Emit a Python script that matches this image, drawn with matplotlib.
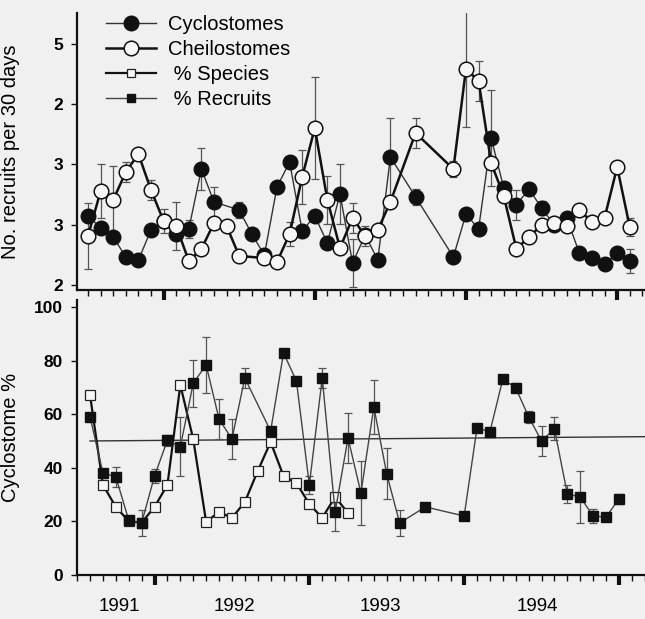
import numpy as np
import matplotlib
matplotlib.use("Agg")
import matplotlib.pyplot as plt
from matplotlib.lines import Line2D

plt.rcParams['font.family'] = ['Liberation Sans', 'DejaVu Sans']

# ---- upper panel: recruitment rates (positions on the recruit axis) ----
months_top = list(range(44))
cyclostomes = [1.145, 0.946, 0.797, 0.465, 0.415, 0.913, 1.062, 0.846, 0.929, 1.925,
               1.378, None, 1.245, 0.846, 0.498, 1.627, 2.041, 0.896, 1.145, 0.697,
               1.510, 0.365, 0.830, 0.415, 2.124, None, 1.461, None, None, 0.465,
               1.178, 0.929, 2.440, 1.610, 1.328, 1.593, 1.278, 0.996, 1.112, 0.531,
               0.448, 0.349, 0.531, 0.398]
cyclostomes_err = [0, 0, 0, 0, 0, 0, 0, 0, 0.149, 0.349,
                   0.249, 0, 0.133, 0, 0, 0, 0, 0, 0, 0,
                   0.498, 0.398, 0, 0, 0.647, 0, 0.133, 0, 0, 0,
                   0, 0, 0.797, 0, 0.249, 0, 0.116, 0, 0, 0,
                   0, 0, 0, 0.2]
cheilostomes = [0.813, 1.560, 1.411, 1.876, 2.174, 1.577, 1.062, 0.979, 0.398, 0.598,
                1.029, 0.979, 0.481, None, 0.448, 0.382, 0.846, 1.793, 2.606, 1.411,
                0.614, 1.112, 0.813, 0.913, 1.378, None, 2.523, None, None, 1.925,
                3.585, 3.386, 2.025, 1.477, 0.598, 0.797, 0.996, 1.029, 0.979, 1.245,
                1.046, 1.112, 1.958, 0.963]
cheilostomes_err = [0.548, 0.448, 0.564, 0.166, 0, 0.166, 0.2, 0.398, 0, 0,
                    0, 0, 0, 0, 0, 0, 0.2, 0.448, 0.846, 0.398,
                    0, 0.249, 0.166, 0, 0, 0, 0.249, 0, 0, 0.133,
                    0.963, 0.332, 0, 0, 0, 0, 0, 0, 0, 0,
                    0, 0, 0, 0.149]
recruit_tick_pos = [0, 1, 2, 3, 4]
recruit_tick_labels = ['2', '3', '3', '2', '5']

# ---- lower panel: cyclostome share (%) ----
months_bot = list(range(42))
pct_species = [67.2, 33.6, 25.4, 20.1, 19.5, 25.4, 33.6, 70.9, 50.7, 19.8,
               23.5, 21.3, 27.2, 38.8, 49.6, 36.9, 34.3, 26.5, 21.3, 29.1,
               23.1]
pct_recruits = [59.0, 38.1, 36.6, 20.5, 19.4, 36.9, 50.3, 47.8, 71.5, 78.4,
                58.2, 50.7, 73.5, None, 53.7, 82.8, 72.4, 33.6, 73.5, 23.5,
                51.1, 30.6, 62.7, 37.7, 19.4, None, 25.4, None, None, 22.0,
                54.9, 53.4, 73.1, 69.8, 59.0, 50.0, 54.5, 30.2, 29.1, 22.0,
                21.6, 28.4]
pct_recruits_err = [1.0, 1.5, 3.6, 1.1, 5.0, 2.7, 2.0, 11.0, 8.7, 10.4,
                    7.6, 7.5, 3.6, 0, 0, 0, 0, 3.4, 3.7, 7.0,
                    9.3, 11.8, 10.0, 9.5, 4.7, 0, 0, 0, 0, 0,
                    0, 0, 0, 1.7, 2.3, 5.6, 4.3, 3.4, 9.8, 2.5,
                    0, 1.9]
reference_line = [50.0, 51.6]
pct_ticks = [0, 20, 40, 60, 80, 100]
year_labels = ['1991', '1992', '1993', '1994']
year_label_pos = [2.3, 11.2, 22.5, 34.7]

BG = '#f1f0f0'
INK = '#111111'
GREY = '#555555'


def present(xs, ys, es=None):
    keep = [i for i, y in enumerate(ys) if y is not None]
    xo = np.array([xs[i] for i in keep], dtype=float)
    yo = np.array([ys[i] for i in keep], dtype=float)
    if es is None:
        return xo, yo
    eo = np.array([es[i] for i in keep], dtype=float)
    return xo, yo, eo


def draw_errors(ax, x, y, e):
    m = e > 0
    ax.errorbar(x[m], y[m], yerr=e[m], fmt='none', ecolor=GREY, elinewidth=0.9,
                capsize=3.2, capthick=0.9, zorder=2)


def style_axis(ax, major_start, xmin, xmax):
    for s in ('top', 'right'):
        ax.spines[s].set_visible(False)
    for s in ('left', 'bottom'):
        ax.spines[s].set_linewidth(1.6)
        ax.spines[s].set_color(INK)
    ax.set_xticks(np.arange(major_start, xmax, 12))
    ax.set_xticks(np.arange(major_start - 12, xmax, 1), minor=True)
    ax.set_xlim(xmin, xmax)
    ax.tick_params(axis='x', which='major', direction='out', length=7, width=3,
                   color=INK, labelbottom=False)
    ax.tick_params(axis='x', which='minor', direction='out', length=4, width=1,
                   color=INK)
    ax.tick_params(axis='y', which='major', direction='out', length=4, width=1,
                   color=INK, labelsize=12.5, pad=6)
    ax.set_facecolor('none')


fig = plt.figure(figsize=(6.45, 6.19), dpi=100, facecolor=BG)

# upper panel
ax1 = fig.add_axes([0.1194, 0.5315, 0.8806, 0.4475])
xc, yc, ec = present(months_top, cyclostomes, cyclostomes_err)
xh, yh, eh = present(months_top, cheilostomes, cheilostomes_err)
draw_errors(ax1, xc, yc, ec)
draw_errors(ax1, xh, yh, eh)
ax1.plot(xc, yc, '-', color='#333333', lw=1.0, marker='o', ms=10.5,
         mfc=INK, mec=INK, zorder=3)
ax1.plot(xh, yh, '-', color=INK, lw=1.8, marker='o', ms=10.5,
         mfc='#f7f6f6', mec=INK, mew=1.1, zorder=4)
ax1.set_yticks(recruit_tick_pos)
ax1.set_yticklabels(recruit_tick_labels)
ax1.set_ylim(-0.083, 4.514)
style_axis(ax1, 6, -0.873, 44.21)
for lab in ax1.get_yticklabels():
    lab.set_fontweight('bold')
ax1.set_ylabel('No. recruits per 30 days', fontsize=14.5)
ax1.yaxis.set_label_coords(-0.1, 0.5)

# lower panel
ax2 = fig.add_axes([0.1194, 0.0711, 0.8806, 0.4443])
xs, ys = present(months_bot, pct_species)
xr, yr, er = present(months_bot, pct_recruits, pct_recruits_err)
xmin2, xmax2 = -1.008, 43.02
ax2.plot([months_bot[0], xmax2], reference_line, '-', color='#333333', lw=1.0,
         zorder=1)
draw_errors(ax2, xr, yr, er)
ax2.plot(xs, ys, '-', color=INK, lw=1.6, marker='s', ms=7,
         mfc='#f7f6f6', mec='#222222', mew=0.9, zorder=3)
ax2.plot(xr, yr, '-', color='#444444', lw=1.0, marker='s', ms=7.5,
         mfc=INK, mec=INK, zorder=4)
ax2.set_yticks(pct_ticks)
ax2.set_ylim(0, 102.6)
style_axis(ax2, 5, xmin2, xmax2)
for lab in ax2.get_yticklabels():
    lab.set_fontweight('bold')
ax2.set_ylabel('Cyclostome %', fontsize=14.5)
ax2.yaxis.set_label_coords(-0.1, 0.5)
xt = ax2.get_xaxis_transform()
for pos, lab in zip(year_label_pos, year_labels):
    ax2.text(pos, -0.085, lab, transform=xt, ha='center', va='top', fontsize=13.5)

# legend
handles = [
    Line2D([], [], color='#333333', lw=1.0, marker='o', ms=10.5, mfc=INK, mec=INK),
    Line2D([], [], color=INK, lw=1.8, marker='o', ms=10.5, mfc='#f7f6f6',
           mec=INK, mew=1.1),
    Line2D([], [], color=INK, lw=1.6, marker='s', ms=5.5, mfc='#f7f6f6',
           mec='#222222', mew=0.9),
    Line2D([], [], color='#444444', lw=1.0, marker='s', ms=5.5, mfc=INK, mec=INK),
]
labels = ['Cyclostomes', 'Cheilostomes', ' % Species', ' % Recruits']
fig.legend(handles, labels, loc='upper left', bbox_to_anchor=(0.152, 0.989),
           frameon=False, fontsize=14.5, handlelength=2.5, handletextpad=0.55,
           labelspacing=0.3, borderaxespad=0.0)

fig.savefig('out.png', dpi=100, facecolor=BG)
